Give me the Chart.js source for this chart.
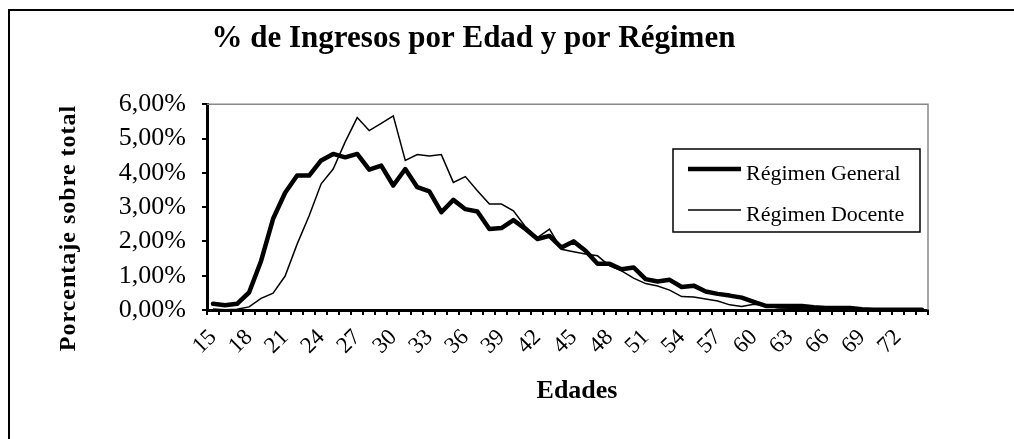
<!DOCTYPE html>
<html>
<head>
<meta charset="utf-8">
<script src="https://cdn.jsdelivr.net/npm/chart.js@4.4.1/dist/chart.umd.min.js"></script>
<style>
  html, body { margin: 0; padding: 0; background: #fff; }
  #wrap { position: relative; width: 1014px; height: 439px; overflow: hidden; }
  #frame { position: absolute; left: 8px; top: 9px; right: -10px; bottom: -10px; border-left: 2px solid #000; border-top: 2px solid #000; pointer-events: none; }
  canvas { position: absolute; left: 0; top: 0; }
</style>
</head>
<body>
<div id="wrap">
  <canvas id="c" width="1014" height="439"></canvas>
  <div id="frame"></div>
</div>
<script>
const chartTitle = "% de Ingresos por Edad y por Régimen";
const yAxisTitle = "Porcentaje sobre total";
const xAxisTitle = "Edades";
const ages = ["15","16","17","18","19","20","21","22","23","24","25","26","27","28","29",
              "30","31","32","33","34","35","36","37","38","39","40","41","42","43","44",
              "45","46","47","48","49","50","51","52","53","54","55","56","57","58","59",
              "60","61","62","63","64","65","66","67","68","69","70","71","72","73","74"];
const seriesNames = ["Régimen General", "Régimen Docente"];
const general = [0.18,0.14,0.18,0.51,1.43,2.66,3.42,3.92,3.92,4.36,4.55,4.45,4.55,4.09,4.21,
                 3.63,4.11,3.58,3.46,2.85,3.21,2.94,2.87,2.36,2.39,2.62,2.36,2.07,2.16,1.82,
                 2.00,1.73,1.35,1.35,1.19,1.24,0.90,0.83,0.88,0.67,0.71,0.54,0.47,0.42,0.36,
                 0.24,0.12,0.12,0.12,0.12,0.08,0.06,0.06,0.06,0.02,0.01,0.01,0.01,0.01,0.01];
const docente = [0.03,0.01,0.02,0.09,0.34,0.49,0.99,1.92,2.75,3.68,4.11,4.90,5.61,5.23,5.44,
                 5.66,4.36,4.53,4.49,4.53,3.72,3.89,3.48,3.09,3.09,2.89,2.43,2.11,2.36,1.77,
                 1.70,1.63,1.58,1.29,1.14,0.93,0.77,0.70,0.58,0.39,0.38,0.32,0.26,0.15,0.10,
                 0.17,0.13,0.06,0.05,0.04,0.03,0.03,0.03,0.02,0.01,0.01,0.01,0.01,0.01,0.01];
const yTicks = [0,1,2,3,4,5,6];

const FONT = "'Liberation Serif', 'Times New Roman', serif";

const decorPlugin = {
  id: 'decor',
  afterDraw(chart) {
    const ctx = chart.ctx;
    const a = chart.chartArea;
    ctx.save();
    ctx.strokeStyle = '#888';
    ctx.lineWidth = 1.5;
    ctx.beginPath();
    ctx.moveTo(a.left, a.top);
    ctx.lineTo(a.right, a.top);
    ctx.lineTo(a.right, a.bottom);
    ctx.stroke();
    ctx.fillStyle = '#000';
    ctx.font = "bold 24px " + FONT;
    ctx.textAlign = 'center';
    ctx.textBaseline = 'middle';
    ctx.save();
    ctx.translate(69, 228);
    ctx.rotate(-Math.PI / 2);
    if ('letterSpacing' in ctx) ctx.letterSpacing = '1px';
    ctx.fillText(yAxisTitle, 0, 0);
    ctx.restore();
    ctx.font = "bold 26px " + FONT;
    ctx.textBaseline = 'alphabetic';
    ctx.fillText(xAxisTitle, 577, 398);
    const lx = 673, ly = 149, lw = 247, lh = 83;
    ctx.fillStyle = '#fff';
    ctx.fillRect(lx, ly, lw, lh);
    ctx.strokeStyle = '#000';
    ctx.lineWidth = 1.5;
    ctx.strokeRect(lx, ly, lw, lh);
    const rows = [169, 210];
    chart.data.datasets.forEach((ds, i) => {
      ctx.strokeStyle = ds.borderColor;
      ctx.lineWidth = ds.borderWidth;
      ctx.beginPath();
      ctx.moveTo(688, rows[i]);
      ctx.lineTo(741, rows[i]);
      ctx.stroke();
      ctx.fillStyle = '#000';
      ctx.font = "22px " + FONT;
      ctx.textAlign = 'left';
      ctx.textBaseline = 'alphabetic';
      ctx.fillText(ds.label, 746, rows[i] + 11);
    });
    ctx.restore();
  }
};

new Chart(document.getElementById('c'), {
  type: 'line',
  data: {
    labels: ages,
    datasets: [
      { label: seriesNames[0], data: general, borderColor: '#000', borderWidth: 4.5,
        pointRadius: 0, tension: 0, fill: false, borderJoinStyle: 'round', borderCapStyle: 'round' },
      { label: seriesNames[1], data: docente, borderColor: '#000', borderWidth: 1.5,
        pointRadius: 0, tension: 0, fill: false }
    ]
  },
  options: {
    responsive: false,
    animation: false,
    devicePixelRatio: 1,
    layout: { padding: { left: 19, right: 86, top: 0, bottom: 0 } },
    plugins: {
      legend: { display: false },
      tooltip: { enabled: false },
      title: {
        display: true,
        text: chartTitle,
        color: '#000',
        font: { family: FONT, size: 31, weight: 'bold' },
        padding: { top: 20, bottom: 47 }
      }
    },
    scales: {
      x: {
        type: 'category',
        offset: true,
        grid: { display: true, drawOnChartArea: false, offset: true, color: '#000', lineWidth: 2, tickLength: 5 },
        border: { display: true, color: '#000', width: 3 },
        ticks: {
          autoSkip: false,
          minRotation: 45, maxRotation: 45,
          padding: 9,
          color: '#000',
          font: { family: FONT, size: 23 },
          callback: function(v, i) { return i % 3 === 0 ? ages[i] : ''; }
        },
        afterFit(s) { s.height = 129; }
      },
      y: {
        min: 0, max: 6,
        afterBuildTicks(s) { s.ticks = yTicks.map(v => ({ value: v })); },
        grid: { display: true, drawOnChartArea: false, color: '#000', lineWidth: 2, tickLength: 5 },
        border: { display: true, color: '#000', width: 3 },
        ticks: {
          padding: 16,
          color: '#000',
          font: { family: FONT, size: 26 },
          callback: v => v.toFixed(2).replace('.', ',') + '%'
        },
        afterFit(s) { s.width = 188; }
      }
    }
  },
  plugins: [decorPlugin]
});
</script>
</body>
</html>
